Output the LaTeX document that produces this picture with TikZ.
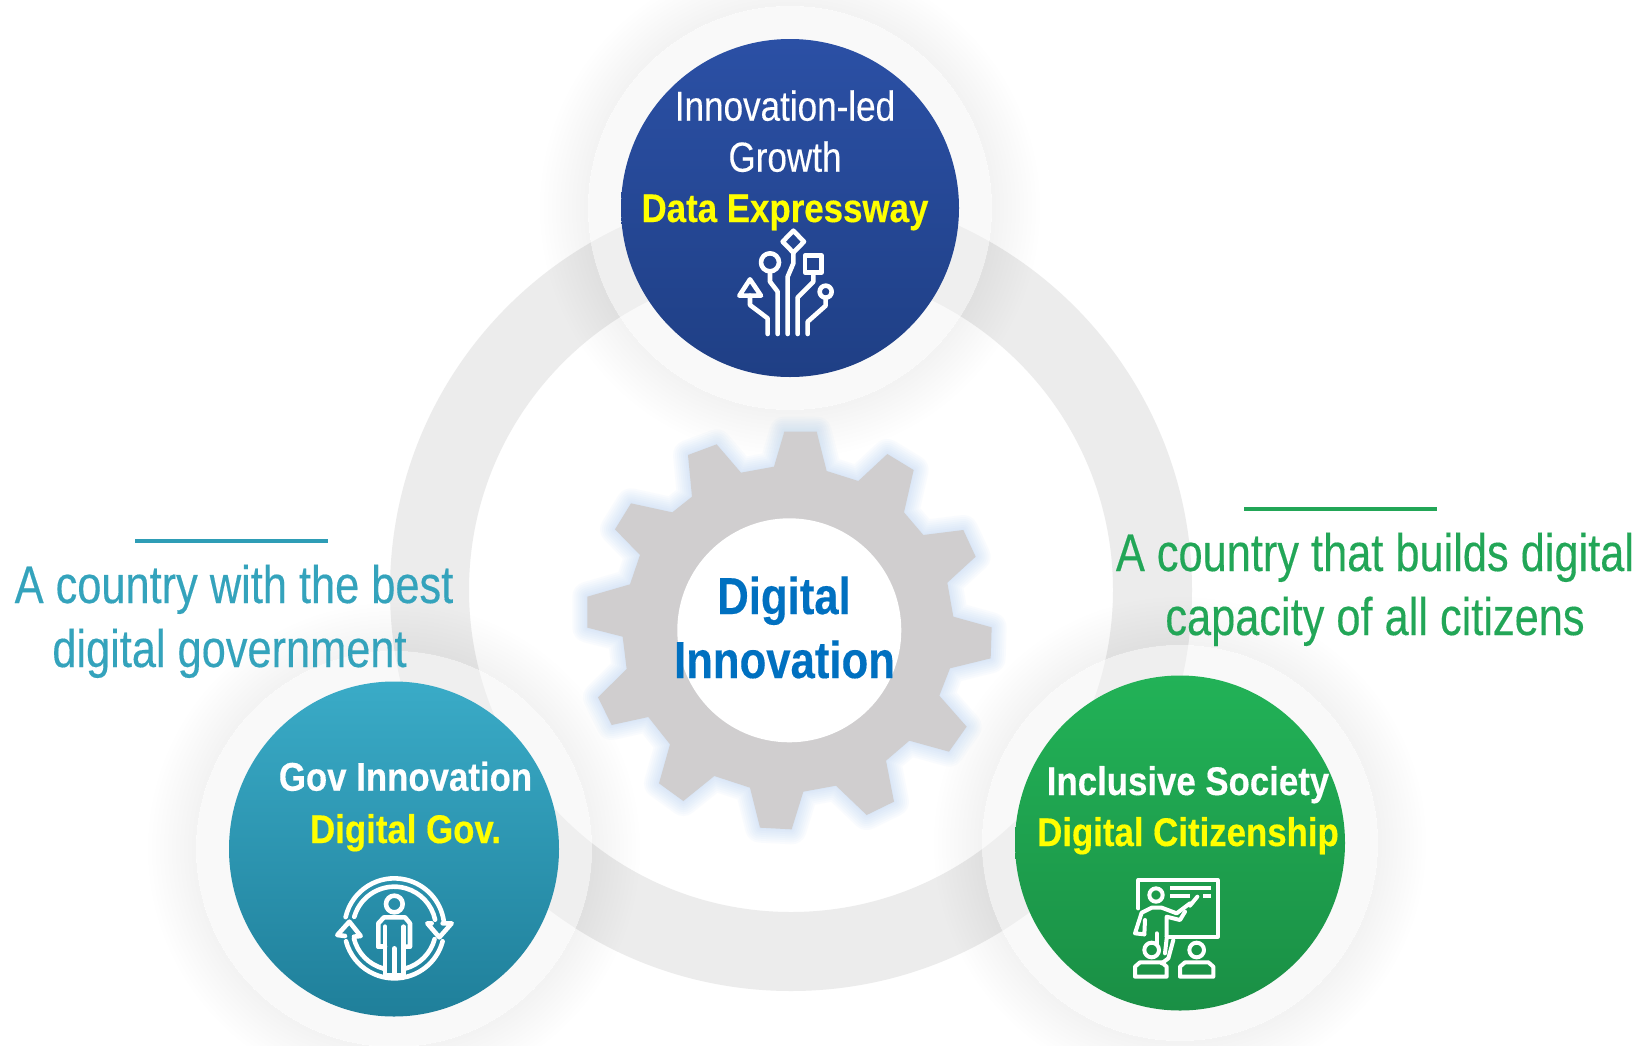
\documentclass[tikz,border=0pt]{standalone}
\usetikzlibrary{shapes.geometric}
\usepackage{fontspec}
\setmainfont{Liberation Sans}
\newfontfamily\famA[FakeStretch=.835,FakeBold=.25]{Liberation Sans}
\newfontfamily\famB[FakeStretch=.818,FakeBold=.25]{Liberation Sans}
\newfontfamily\famC[FakeStretch=.872,FakeBold=.35]{Liberation Sans}
\newfontfamily\famD[FakeStretch=.87,FakeBold=.35]{Liberation Sans}
\newfontfamily\famE[FakeStretch=.84,FakeBold=.25]{Liberation Sans}
\definecolor{ringc}{HTML}{ECECEC}
\definecolor{haloc}{HTML}{F4F4F4}
\definecolor{gearc}{HTML}{D0CECF}
\definecolor{glowc}{HTML}{9CC4F0}
\definecolor{tealt}{HTML}{34A3BC}
\definecolor{teall}{HTML}{2E9DB6}
\definecolor{greent}{HTML}{22A657}
\definecolor{yel}{HTML}{FFFF00}
\definecolor{coreblue}{HTML}{0070C0}
\definecolor{bluetop}{HTML}{2B50A5}
\definecolor{bluebot}{HTML}{1F3F85}
\definecolor{tealtop}{HTML}{3AABC7}
\definecolor{tealbot}{HTML}{1F7F9A}
\definecolor{greentop}{HTML}{22B257}
\definecolor{greenbot}{HTML}{1A8F45}
\tikzset{
  disc/.style={circle,inner sep=0pt,minimum size=#1},
  oval/.style={ellipse,inner sep=0pt,minimum width=330pt,minimum height=335pt},
  lab/.style={anchor=base,inner sep=0pt},
  icon/.style={draw=white,line width=4.6pt,line join=round,line cap=round},
  iconb/.style={draw=white,line width=4pt,line join=round,line cap=round},
  rulerline/.style={line width=4.2pt}
}
\def\gearpath{(643,65)--(740,65)--(770,183)--(865,213)--(952,132)--(1031,180)--(1002,307)--(1060,375)--(1180,360)--(1217,440)--(1132,518)--(1150,620)--(1265,652)--(1262,745)--(1140,775)--(1108,857)--(1190,950)--(1137,1025)--(1018,992)--(948,1052)--(972,1175)--(890,1215)--(798,1127)--(700,1145)--(665,1258)--(570,1253)--(540,1133)--(433,1098)--(340,1173)--(267,1120)--(300,1003)--(235,921)--(125,945)--(84,862)--(170,777)--(158,680)--(52,653)--(52,560)--(180,523)--(210,435)--(135,358)--(183,280)--(307,307)--(366,260)--(354,135)--(440,103)--(513,188)--(612,170)--cycle}
\begin{document}
\begin{tikzpicture}[x=1pt,y=-1pt]
\useasboundingbox (0,0) rectangle (1652,1045);
\clip (0,0) rectangle (1652,1045);
\fill[white] (0,0) rectangle (1652,1045);
% ring
\fill[ringc,even odd rule] (791,590) circle[radius=401] (791,590) circle[radius=322];
% soft shadows outside the halos
\foreach \cx/\cy/\rh in {790/208/202,394/849/198,1180/843/198}{
  \foreach \r in {4,8,...,48}{
    \fill[black,opacity=.005,even odd rule] (\cx,\cy) circle[radius=\rh+\r] (\cx,\cy) circle[radius=\rh];
  }
}
% translucent halos
\fill[haloc,opacity=.47] (790,208) circle[radius=202];
\fill[haloc,opacity=.47] (394,849) circle[radius=198];
\fill[haloc,opacity=.47] (1180,843) circle[radius=198];
% satellite discs
\node[disc=338pt,top color=bluetop,bottom color=bluebot] (top) at (790,208) {};
\node[oval,top color=tealtop,bottom color=tealbot] (left) at (394,849) {};
\node[oval,top color=greentop,bottom color=greenbot] (right) at (1180,843) {};
% gear
\begin{scope}[shift={(570,410)},scale=.33333]
  \foreach \w in {30,26,22,18,14,10,6,2}{
    \draw[glowc,opacity=.05,line width=\w pt,line join=round] \gearpath;
  }
  \fill[gearc] \gearpath;
\end{scope}
\node[disc=224pt,fill=white] (hub) at (789.3,630.3) {};
% icon 1
\begin{scope}[shift={(680,210)},scale=.33333]
  \draw[icon] (340,62)--(372,95)--(340,128)--(308,95)--cycle;
  \draw[icon] (340,128)--(340,160)--(323,200)--(323,372);
  \draw[icon] (270,157) circle[radius=27];
  \draw[icon] (270,185)--(270,215)--(293,245)--(293,372);
  \draw[icon] (375,137) rectangle (425,187);
  \draw[icon] (400,187)--(400,215)--(353,262)--(353,372);
  \draw[icon] (437,245) circle[radius=18];
  \draw[icon] (437,263)--(437,287)--(383,335)--(383,372);
  \draw[icon] (210,208)--(243,257)--(178,257)--cycle;
  \draw[icon] (210,257)--(210,285)--(263,325)--(263,372);
\end{scope}
% icon 2
\begin{scope}[shift={(310,860)},scale=.33333]
  \draw[icon] (253,205) ++(193:150) arc[start angle=193,end angle=352,radius=150];
  \draw[icon] (253,205) ++(196:125) arc[start angle=196,end angle=348,radius=125];
  \draw[icon] (253,205) ++(165:150) arc[start angle=165,end angle=15,radius=150];
  \draw[icon] (253,205) ++(166:125) arc[start angle=166,end angle=105,radius=125];
  \draw[icon] (253,205) ++(75:125) arc[start angle=75,end angle=15,radius=125];
  \draw[icon] (365,190)--(352,190)--(388,232)--(425,190)--(398,190);
  \draw[icon] (132,230)--(152,228)--(118,185)--(82,225)--(105,228);
  \draw[icon] (253,132) circle[radius=25];
  \draw[icon] (205,260)--(205,190)--(222,172)--(285,172)--(300,190)--(300,260)--(280,260);
  \draw[icon] (205,260)--(225,260);
  \draw[icon] (225,200)--(225,345)--(280,345)--(280,200);
  \draw[icon] (253,265)--(253,345);
\end{scope}
% icon 3
\begin{scope}[shift={(1110,865)},scale=.33333]
  \draw[iconb] (85,130)--(85,45)--(323,45)--(323,215)--(170,215);
  \draw[iconb,line cap=butt] (180,70)--(303,70);
  \draw[iconb,line cap=butt] (180,92)--(240,92);
  \draw[iconb,line cap=butt] (280,92)--(303,92);
  \draw[iconb] (138,90) circle[radius=20];
  \draw[iconb] (103,208)--(75,205)--(95,143)--(125,128)--(155,128)--(200,145)--(240,115);
  \draw[iconb] (240,122)--(262,95);
  \draw[iconb] (225,140)--(210,165)--(170,155)--(170,215);
  \draw[iconb] (103,208)--(105,165);
  \draw[iconb] (140,205)--(140,235);
  \draw[iconb] (190,225)--(175,280)--(155,295);
  \draw[iconb] (170,220)--(165,265);
  \draw[iconb] (125,255) circle[radius=22];
  \draw[iconb] (75,335)--(75,305)--(90,292)--(155,292)--(170,305)--(170,335)--cycle;
  \draw[iconb] (260,255) circle[radius=22];
  \draw[iconb] (210,335)--(210,305)--(225,292)--(295,292)--(310,305)--(310,335)--cycle;
\end{scope}
% texts
\node[lab,text=white] (t1) at (785,120.7) {\famA\fontsize{42}{42}\selectfont Innovation-led};
\node[lab,text=white] (t2) at (785,171.7) {\famA\fontsize{42}{42}\selectfont Growth};
\node[lab,text=yel] (t3) at (785,222) {\famC\bfseries\fontsize{40}{40}\selectfont Data Expressway};
\node[lab,text=white] (t4) at (405.5,790.7) {\famD\bfseries\fontsize{40}{40}\selectfont Gov Innovation};
\node[lab,text=yel] (t5) at (405.5,843) {\famD\bfseries\fontsize{40}{40}\selectfont Digital Gov.};
\node[lab,text=white] (t6) at (1188,795) {\famD\bfseries\fontsize{40}{40}\selectfont Inclusive Society};
\node[lab,text=yel] (t7) at (1188,846) {\famD\bfseries\fontsize{40}{40}\selectfont Digital Citizenship};
\node[lab,text=coreblue] (t8) at (784,614) {\famE\bfseries\fontsize{52}{52}\selectfont Digital};
\node[lab,text=coreblue] (t9) at (784.5,678) {\famE\bfseries\fontsize{52}{52}\selectfont Innovation};
\node[lab,text=tealt] (t10) at (234,603) {\famB\fontsize{53}{53}\selectfont A country with the best};
\node[lab,text=tealt] (t11) at (229.5,667) {\famB\fontsize{53}{53}\selectfont digital government};
\node[lab,text=greent] (t12) at (1375,571) {\famB\fontsize{53}{53}\selectfont A country that builds digital};
\node[lab,text=greent] (t13) at (1375,635) {\famB\fontsize{53}{53}\selectfont capacity of all citizens};
\coordinate (la) at (135,540.7);
\coordinate (lb) at (328,540.7);
\coordinate (ra) at (1244,509);
\coordinate (rb) at (1437,509);
\draw[rulerline,teall] (la)--(lb);
\draw[rulerline,greent] (ra)--(rb);
\end{tikzpicture}
\end{document}
